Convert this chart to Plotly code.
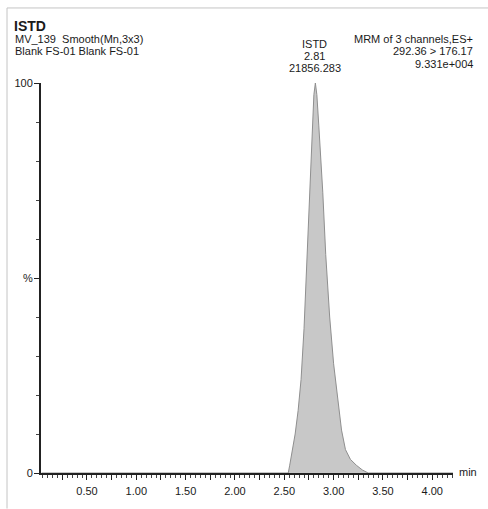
import plotly.graph_objects as go

# ---- data ----
# chromatogram: retention time (min) and relative intensity (%)
time_min = [0.04, 2.54, 2.555, 2.575, 2.61, 2.64, 2.67, 2.70, 2.73, 2.755, 2.78, 2.80, 2.815,
            2.83, 2.85, 2.89, 2.92, 2.96, 3.00, 3.04, 3.08, 3.12, 3.17, 3.23, 3.29, 3.35, 4.21]
intensity_pct = [0, 0, 2, 5, 10, 16, 24, 37, 55, 72, 88, 97, 100,
                 97, 89, 72, 56, 40, 28, 19, 11, 6, 3.5, 2, 0.8, 0, 0]

x_tick_vals = [0.25, 0.50, 0.75, 1.00, 1.25, 1.50, 1.75, 2.00, 2.25, 2.50, 2.75, 3.00, 3.25, 3.50, 3.75, 4.00]
x_tick_text = ["", "0.50", "", "1.00", "", "1.50", "", "2.00", "", "2.50", "", "3.00", "", "3.50", "", "4.00"]
y_tick_vals = [0, 50, 100]
y_tick_text = ["0", "%", "100"]

title_text = "ISTD"
header_left = ["MV_139  Smooth(Mn,3x3)", "Blank FS-01 Blank FS-01"]
header_right = ["MRM of 3 channels,ES+", "292.36 > 176.17", "9.331e+004"]
peak_label = ["ISTD", "2.81", "21856.283"]
peak_rt = 2.81

# ---- layout geometry (pixels) ----
W, H = 488, 509
L, R, T, B = 41, 453, 83, 478
FONT = "Liberation Sans, Arial, sans-serif"
TXT = "#1a1a1a"


def px(x):
    return (x - L) / (R - L)


def py(y):
    return (B - y) / (B - T)


fig = go.Figure()
fig.add_trace(go.Scatter(
    x=time_min, y=intensity_pct, mode="lines",
    line=dict(color="#8f8f8f", width=1),
    fill="tozeroy", fillcolor="#c8c8c8",
    hoverinfo="skip", showlegend=False,
))

ann = []
ann.append(dict(x=px(12), y=py(25), xref="paper", yref="paper", text="<b>%s</b>" % title_text,
                showarrow=False, xanchor="left", yanchor="middle",
                font=dict(family=FONT, size=14, color=TXT)))
for i, s in enumerate(header_left):
    ann.append(dict(x=px(13), y=py(38.5 + 12.5 * i), xref="paper", yref="paper", text=s,
                    showarrow=False, xanchor="left", yanchor="middle",
                    font=dict(family=FONT, size=11, color=TXT)))
for i, s in enumerate(header_right):
    ann.append(dict(x=px(475), y=py(38.5 + 12.5 * i), xref="paper", yref="paper", text=s,
                    showarrow=False, xanchor="right", yanchor="middle",
                    font=dict(family=FONT, size=11, color=TXT)))
for i, s in enumerate(peak_label):
    ann.append(dict(x=peak_rt, y=py(44 + 12 * i), xref="x", yref="paper", text=s,
                    showarrow=False, xanchor="center", yanchor="middle",
                    font=dict(family=FONT, size=11, color=TXT)))
ann.append(dict(x=px(457), y=py(477), xref="paper", yref="paper", text="min",
                showarrow=False, xanchor="left", yanchor="middle",
                font=dict(family=FONT, size=11, color=TXT)))

shapes = [
    dict(type="line", xref="paper", yref="paper", x0=px(7), y0=py(7), x1=px(W + 5), y1=py(7),
         line=dict(color="#c4c4c4", width=1)),
    dict(type="line", xref="paper", yref="paper", x0=px(7), y0=py(7), x1=px(7), y1=py(H + 5),
         line=dict(color="#c4c4c4", width=1)),
]

fig.update_layout(
    width=W, height=H, autosize=False,
    margin=dict(l=L, r=W - R, t=T, b=H - B, pad=0),
    paper_bgcolor="white", plot_bgcolor="white",
    font=dict(family=FONT, size=11, color=TXT),
    annotations=ann, shapes=shapes, showlegend=False,
)
fig.update_xaxes(
    range=[0.034, 4.21], showgrid=False, zeroline=False,
    showline=True, linecolor="#222222", linewidth=2,
    tickmode="array", tickvals=x_tick_vals, ticktext=x_tick_text,
    ticks="outside", ticklen=5, tickwidth=1, tickcolor="#222222",
    ticklabelstandoff=2,
    minor=dict(dtick=0.05, tick0=0, ticks="outside", ticklen=3, tickwidth=1, tickcolor="#444444"),
    tickfont=dict(family=FONT, size=11, color=TXT),
)
fig.update_yaxes(
    range=[0, 100], showgrid=False, zeroline=False,
    showline=True, linecolor="#222222", linewidth=2,
    tickmode="array", tickvals=y_tick_vals, ticktext=y_tick_text,
    ticks="outside", ticklen=5, tickwidth=1, tickcolor="#222222",
    ticklabelstandoff=-1,
    minor=dict(dtick=10, tick0=0, ticks="outside", ticklen=3, tickwidth=1, tickcolor="#444444"),
    tickfont=dict(family=FONT, size=11, color=TXT),
)

fig.write_html("out.html")
